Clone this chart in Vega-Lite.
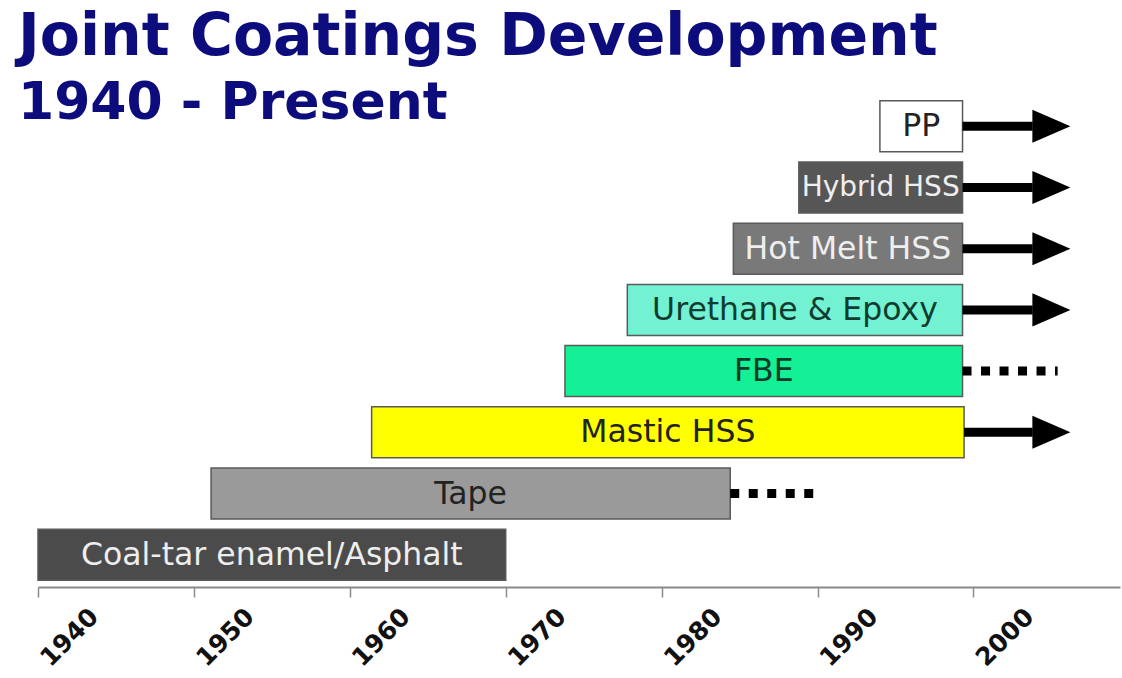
{
  "$schema": "https://vega.github.io/schema/vega-lite/v6.json",
  "width": 1082,
  "height": 493,
  "autosize": {"type": "none"},
  "padding": {"left": 38, "top": 94, "right": 2, "bottom": 91},
  "background": "white",
  "title": {
    "text": "Joint Coatings Development",
    "subtitle": "1940 - Present",
    "anchor": "start",
    "frame": "group",
    "dx": -20,
    "offset": -36,
    "font": "DejaVu Sans",
    "fontSize": 58.5,
    "fontWeight": "bold",
    "color": "#0c0c7c",
    "subtitleFont": "DejaVu Sans",
    "subtitleFontSize": 52,
    "subtitleFontWeight": "bold",
    "subtitleColor": "#0c0c7c",
    "subtitlePadding": 11
  },
  "data": {
    "values": [
      {"name": "PP", "start": 1994.0, "end": 1999.3, "ext": "arrow", "ext_end": 2003.8, "head": 2005.0},
      {"name": "Hybrid HSS", "start": 1988.8, "end": 1999.3, "ext": "arrow", "ext_end": 2003.8, "head": 2005.0},
      {"name": "Hot Melt HSS", "start": 1984.6, "end": 1999.3, "ext": "arrow", "ext_end": 2003.8, "head": 2005.0},
      {"name": "Urethane & Epoxy", "start": 1977.8, "end": 1999.3, "ext": "arrow", "ext_end": 2003.8, "head": 2005.0},
      {"name": "FBE", "start": 1973.8, "end": 1999.3, "ext": "dotted", "ext_end": 2005.4, "head": null},
      {"name": "Mastic HSS", "start": 1961.4, "end": 1999.4, "ext": "arrow", "ext_end": 2003.8, "head": 2005.0},
      {"name": "Tape", "start": 1951.1, "end": 1984.4, "ext": "dotted", "ext_end": 1990.3, "head": null},
      {"name": "Coal-tar enamel/Asphalt", "start": 1940.0, "end": 1970.0, "ext": "none", "ext_end": null, "head": null}
    ]
  },
  "transform": [{"calculate": "(datum.start + datum.end) / 2", "as": "mid"}],
  "encoding": {
    "y": {
      "field": "name",
      "type": "nominal",
      "sort": ["PP", "Hybrid HSS", "Hot Melt HSS", "Urethane & Epoxy", "FBE", "Mastic HSS", "Tape", "Coal-tar enamel/Asphalt"],
      "scale": {"paddingInner": 0.167, "paddingOuter": 0.111},
      "axis": null
    }
  },
  "resolve": {"scale": {"color": "independent"}},
  "layer": [
    {
      "mark": {"type": "bar", "stroke": "#5a5a5a", "strokeWidth": 1.5},
      "encoding": {
        "x": {
          "field": "start",
          "type": "quantitative",
          "scale": {"domain": [1940, 2009.4], "nice": false, "zero": false},
          "axis": {
            "values": [1940, 1950, 1960, 1970, 1980, 1990, 2000],
            "format": "d",
            "title": null,
            "grid": false,
            "domainColor": "#8a8a8a",
            "domainWidth": 2,
            "tickColor": "#8a8a8a",
            "tickWidth": 1.5,
            "tickSize": 10,
            "labelAngle": -45,
            "labelAlign": "center",
            "labelBaseline": "middle",
            "labelOffset": 31,
            "labelPadding": 40,
            "labelFont": "DejaVu Sans",
            "labelFontSize": 25,
            "labelFontWeight": "bold",
            "labelColor": "#111111"
          }
        },
        "x2": {"field": "end"},
        "color": {
          "field": "name",
          "type": "nominal",
          "legend": null,
          "scale": {
            "domain": ["PP", "Hybrid HSS", "Hot Melt HSS", "Urethane & Epoxy", "FBE", "Mastic HSS", "Tape", "Coal-tar enamel/Asphalt"],
            "range": ["#ffffff", "#565656", "#797979", "#72f2d2", "#14f096", "#ffff00", "#9a9a9a", "#4b4b4b"]
          }
        }
      }
    },
    {
      "mark": {"type": "text", "font": "DejaVu Sans", "align": "center", "baseline": "middle", "dy": 1},
      "encoding": {
        "x": {"field": "mid", "type": "quantitative"},
        "text": {"field": "name"},
        "size": {"condition": {"test": "datum.name === 'Hybrid HSS'", "value": 28}, "value": 31.5},
        "color": {
          "field": "name",
          "type": "nominal",
          "legend": null,
          "scale": {
            "domain": ["PP", "Hybrid HSS", "Hot Melt HSS", "Urethane & Epoxy", "FBE", "Mastic HSS", "Tape", "Coal-tar enamel/Asphalt"],
            "range": ["#222222", "#eeeeee", "#eeeeee", "#103c30", "#0e3a28", "#222222", "#222222", "#eeeeee"]
          }
        }
      }
    },
    {
      "transform": [{"filter": "datum.ext === 'arrow'"}],
      "mark": {"type": "rule", "color": "#000000", "strokeWidth": 9},
      "encoding": {
        "x": {"field": "end", "type": "quantitative"},
        "x2": {"field": "ext_end"}
      }
    },
    {
      "transform": [{"filter": "datum.ext === 'dotted'"}],
      "mark": {"type": "rule", "color": "#000000", "strokeWidth": 9, "strokeDash": [9, 9.5], "strokeCap": "butt"},
      "encoding": {
        "x": {"field": "end", "type": "quantitative"},
        "x2": {"field": "ext_end"}
      }
    },
    {
      "transform": [{"filter": "datum.ext === 'arrow'"}],
      "mark": {"type": "point", "shape": "M-1,-0.87L1,0L-1,0.87Z", "filled": true, "color": "#000000", "opacity": 1, "size": 1444, "strokeWidth": 0},
      "encoding": {
        "x": {"field": "head", "type": "quantitative"}
      }
    }
  ],
  "config": {
    "view": {"stroke": null}
  }
}
